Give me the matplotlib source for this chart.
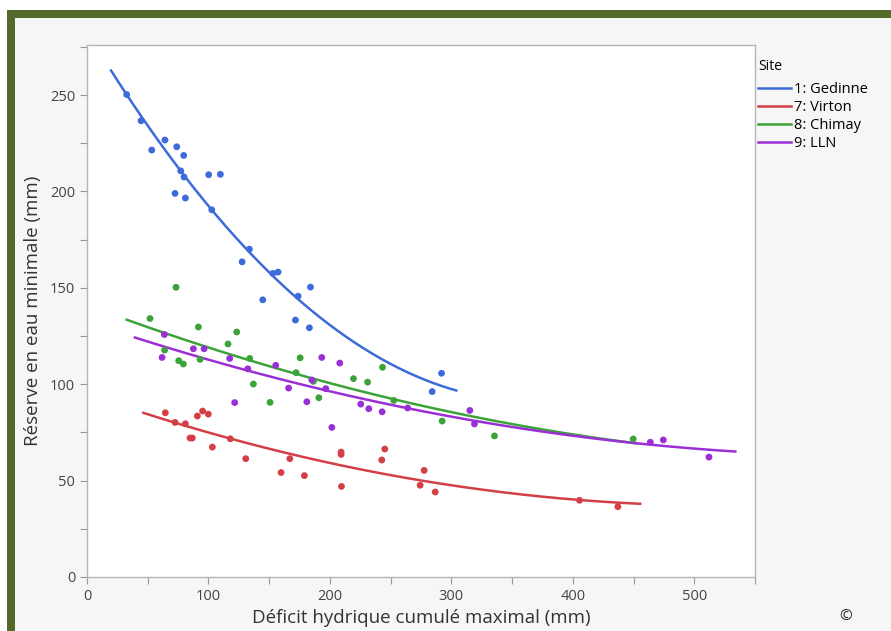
import numpy as np
import matplotlib
matplotlib.use("Agg")
import matplotlib.pyplot as plt
from matplotlib.patches import Rectangle

# ---- data ----
gedinne_x = [32.7, 44.5, 64.2, 53.3, 73.9, 79.6, 77.2, 79.9, 100.2, 109.8, 72.5, 81.0, 102.7,
             133.7, 127.7, 153.0, 157.3, 144.7, 173.8, 184.0, 171.6, 183.1, 291.9, 284.2]
gedinne_y = [250.3, 236.7, 226.7, 221.5, 223.2, 218.7, 210.7, 207.5, 208.7, 208.9, 199.0, 196.6, 190.5,
             170.1, 163.5, 157.5, 158.2, 143.8, 145.7, 150.4, 133.3, 129.3, 105.7, 96.2]

virton_x = [64.5, 72.5, 81.0, 90.9, 95.2, 99.9, 84.8, 86.7, 103.2, 118.0, 130.7, 159.8, 167.0,
            179.0, 209.2, 209.2, 209.5, 245.2, 242.7, 277.6, 274.3, 286.7, 405.5, 437.1]
virton_y = [85.2, 80.2, 79.5, 83.5, 86.1, 84.5, 72.1, 72.1, 67.4, 71.7, 61.4, 54.2, 61.4,
            52.6, 64.8, 63.6, 47.0, 66.4, 60.7, 55.3, 47.6, 44.1, 39.8, 36.5]

chimay_x = [73.3, 51.9, 91.7, 123.3, 116.1, 63.9, 75.5, 79.3, 93.1, 134.0, 175.5, 137.0, 172.2,
            186.4, 150.7, 190.9, 219.4, 231.0, 243.3, 252.6, 292.4, 335.5, 449.7]
chimay_y = [150.3, 134.1, 129.7, 127.1, 120.9, 117.7, 112.2, 110.5, 112.9, 113.4, 113.7, 100.1, 106.0,
            101.5, 90.6, 93.0, 102.9, 101.1, 108.8, 91.6, 80.9, 73.2, 71.6]

lln_x = [63.7, 61.8, 87.6, 96.4, 117.5, 132.4, 121.6, 155.4, 166.0, 181.0, 185.1, 193.3, 208.1,
         196.6, 201.6, 225.4, 232.0, 243.0, 264.0, 315.2, 319.0, 463.8, 474.5, 512.1]
lln_y = [125.8, 113.9, 118.4, 118.4, 113.4, 108.0, 90.5, 109.8, 98.0, 90.9, 102.2, 113.9, 111.0,
         97.7, 77.6, 89.7, 87.3, 85.7, 87.7, 86.4, 79.4, 69.9, 71.1, 62.2]

# fit-line x-ranges as drawn
gedinne_range = [19.8, 304.0]
virton_range = [46.4, 455.5]
chimay_range = [32.7, 452.0]
lln_range = [39.5, 533.8]

site_labels = ["1: Gedinne", "7: Virton", "8: Chimay", "9: LLN"]
x_ticks = [0, 100, 200, 300, 400, 500]
y_ticks = [0, 50, 100, 150, 200, 250]

colors = ["#3d6bd9", "#d43f47", "#3ba338", "#9a2fd6"]

plt.rcParams['font.family'] = ['Open Sans', 'DejaVu Sans']

fig = plt.figure(figsize=(8.91, 6.31), dpi=100)
fig.patch.set_facecolor("white")

W, H = 891, 631
# light gray inner background
fig.patches.append(Rectangle((15 / W, 0), 1 - 15 / W, 1 - 18 / H, transform=fig.transFigure,
                             facecolor="#f6f6f6", edgecolor="none", zorder=-3))
# olive frame (top and left)
frame_col = "#546a2b"
fig.patches.append(Rectangle((7 / W, 0), 8 / W, 1 - 10 / H, transform=fig.transFigure,
                             facecolor=frame_col, edgecolor="none", zorder=-2))
fig.patches.append(Rectangle((7 / W, 1 - 18 / H), 1 - 7 / W, 8 / H, transform=fig.transFigure,
                             facecolor=frame_col, edgecolor="none", zorder=-2))

ax = fig.add_axes([87 / W, 1 - 577 / H, (755 - 87) / W, (577 - 45) / H])
ax.set_facecolor("white")

series = [(gedinne_x, gedinne_y, gedinne_range),
          (virton_x, virton_y, virton_range),
          (chimay_x, chimay_y, chimay_range),
          (lln_x, lln_y, lln_range)]

handles = []
for (xs, ys, rng), col, lab in zip(series, colors, site_labels):
    xs = np.asarray(xs)
    ys = np.asarray(ys)
    coef = np.polyfit(xs, ys, 2)
    xx = np.linspace(rng[0], rng[1], 200)
    h, = ax.plot(xx, np.polyval(coef, xx), color=col, lw=1.8, label=lab, zorder=3)
    ax.scatter(xs, ys, s=24, color=col, edgecolors="none", zorder=4)
    handles.append(h)

ax.set_xlim(0, 550)
ax.set_ylim(0, 276)
ax.set_xticks(x_ticks)
ax.set_yticks(y_ticks)
ax.set_xticks(np.arange(50, 551, 100), minor=True)
ax.set_yticks(np.arange(25, 276, 50), minor=True)
ax.tick_params(axis="both", which="both", length=5, width=0.8, color="#9a9a9a",
               labelsize=10.5, labelcolor="#444444")
for sp in ax.spines.values():
    sp.set_color("#b5b5b5")
    sp.set_linewidth(1.0)

ax.set_xlabel("Déficit hydrique cumulé maximal (mm)", fontsize=13.5, color="#333333", labelpad=4)
ax.set_ylabel("Réserve en eau minimale (mm)", fontsize=13.5, color="#333333", labelpad=6)

leg = fig.legend(handles=handles, labels=site_labels, title="Site", loc="upper left",
                 bbox_to_anchor=(752 / W, 1 - 53 / H), frameon=False, fontsize=10.5,
                 title_fontsize=10, handlelength=2.3, handletextpad=0.2, labelspacing=0.2,
                 borderaxespad=0)
leg._legend_box.align = "left"
leg._legend_box.sep = 6

fig.text(846 / W, 1 - 617 / H, "©", fontsize=11, color="#222222", ha="center", va="center")

fig.savefig("out.png", dpi=100)
